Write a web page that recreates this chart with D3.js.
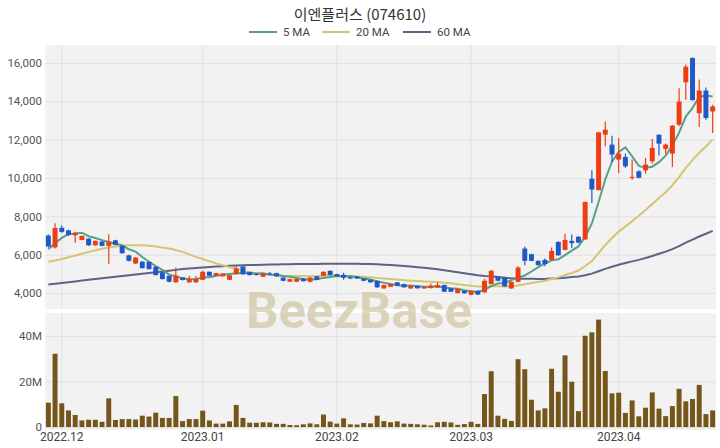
<!DOCTYPE html>
<html><head><meta charset="utf-8">
<script src="https://cdn.jsdelivr.net/npm/d3@7"></script>
<style>
html,body{margin:0;padding:0;background:#fff;}
svg{display:block;font-family:Roboto,"Noto Sans CJK KR","Noto Sans",sans-serif;}
</style></head>
<body>
<svg id="chart" width="720" height="448"></svg>
<script>
const title = "이엔플러스 (074610)";
const dates = [
"2022-11-29","2022-11-30",
"2022-12-01","2022-12-02","2022-12-05","2022-12-06","2022-12-07","2022-12-08","2022-12-09","2022-12-12","2022-12-13","2022-12-14","2022-12-15","2022-12-16","2022-12-19","2022-12-20","2022-12-21","2022-12-22","2022-12-23","2022-12-26","2022-12-27","2022-12-28","2022-12-29",
"2023-01-02","2023-01-03","2023-01-04","2023-01-05","2023-01-06","2023-01-09","2023-01-10","2023-01-11","2023-01-12","2023-01-13","2023-01-16","2023-01-17","2023-01-18","2023-01-19","2023-01-20","2023-01-25","2023-01-26","2023-01-27","2023-01-30","2023-01-31",
"2023-02-01","2023-02-02","2023-02-03","2023-02-06","2023-02-07","2023-02-08","2023-02-09","2023-02-10","2023-02-13","2023-02-14","2023-02-15","2023-02-16","2023-02-17","2023-02-20","2023-02-21","2023-02-22","2023-02-23","2023-02-24","2023-02-27","2023-02-28",
"2023-03-02","2023-03-03","2023-03-06","2023-03-07","2023-03-08","2023-03-09","2023-03-10","2023-03-13","2023-03-14","2023-03-15","2023-03-16","2023-03-17","2023-03-20","2023-03-21","2023-03-22","2023-03-23","2023-03-24","2023-03-27","2023-03-28","2023-03-29","2023-03-30","2023-03-31",
"2023-04-03","2023-04-04","2023-04-05","2023-04-06","2023-04-07","2023-04-10","2023-04-11","2023-04-12","2023-04-13","2023-04-14","2023-04-17","2023-04-18","2023-04-19","2023-04-20","2023-04-21"];
const open  = [7000,6380,7400,7270,7010,6770,6840,6490,6690,6460,6750,6460,5970,5540,5640,5630,5370,5080,4900,4560,
4810,4560,4560,4690,5110,4900,4870,4690,4990,5390,5100,5000,4850,5020,5040,4810,4590,4590,4760,4590,
4870,4900,5160,4990,4950,4830,4870,4760,4690,4640,4240,4330,4560,4470,4240,4380,4240,4260,4290,4420,
4240,4000,4120,3910,4120,4040,4470,4870,4810,4240,4590,6320,6030,5680,5730,5730,6670,6250,6720,6940,
6800,9960,9370,12260,11740,10960,11100,10060,10350,10400,10870,12260,11520,11270,12780,14990,16260,13380,14560,13470];
const high  = [7050,7640,7530,7300,7180,7000,6860,6740,6700,7070,6780,6470,6000,5870,5660,5650,5390,5100,4920,5330,
4830,4900,4900,5160,5130,5060,5040,4950,5380,5400,5120,5020,5040,5100,5060,4830,4750,4750,4780,4830,
4890,5130,5180,5010,5060,4850,4890,4780,4710,4660,4440,4490,4580,4490,4400,4400,4350,4500,4560,4440,
4260,4230,4140,4140,4140,4740,5220,4890,4830,4610,5400,6420,6050,5700,5800,6380,6690,7100,7050,6960,
8770,10400,12400,12950,12200,12090,11270,10960,10400,11050,12040,12270,11800,12750,14680,15900,16280,15140,14720,13820];
const low   = [6380,6320,7150,6990,6630,6750,6470,6480,6440,5510,6500,6050,5650,5520,5280,5230,4920,4710,4570,4540,
4660,4540,4540,4680,4890,4890,4860,4680,4950,4950,4920,4920,4840,4940,4850,4620,4580,4580,4610,4570,
4680,4880,4920,4850,4700,4740,4740,4620,4540,4280,4220,4310,4360,4280,4220,4230,4220,4240,4270,4050,
4050,3980,3970,3890,3900,4020,4450,4620,4330,4220,4570,5450,5660,5440,5400,5710,5950,6230,6350,6610,
6780,8700,9350,11650,10820,10260,10530,9890,9990,10230,10750,11170,11270,10580,12700,14080,14040,12660,13040,12350];
const close = [6430,7400,7190,7020,7150,6980,6490,6720,6460,6690,6510,6080,5680,5850,5300,5250,4940,4730,4590,4900,
4680,4730,4730,5110,4900,5040,5020,4930,5280,4990,4940,4940,5020,4970,4870,4640,4730,4730,4620,4810,
4690,5110,4940,4870,4800,4760,4760,4640,4560,4300,4420,4470,4380,4300,4380,4250,4330,4380,4420,4070,
4070,4210,3990,4120,3920,4640,5160,4640,4350,4590,5330,5680,5680,5460,5510,6200,5970,6770,6600,6630,
8750,9400,12380,12520,11220,11270,10610,10060,10010,10700,11570,11790,11740,12730,13990,15800,14060,14560,13130,13730];
const volume = [10.7,32.2,10.4,7.3,5.3,2.9,3.2,3.2,2.3,12.6,3.1,3.5,3.5,3.3,5.0,4.6,6.3,4.0,4.0,13.6,
2.6,3.5,3.5,7.2,2.9,1.5,1.5,2.5,9.7,4.0,1.9,1.9,2.1,2.0,1.4,1.4,0.9,0.8,1.2,1.6,
1.2,5.5,2.4,1.5,3.8,1.2,1.1,1.8,1.6,5.0,2.6,2.1,2.5,1.5,1.4,1.2,1.0,0.7,2.1,2.3,
2.0,1.0,1.3,2.3,1.4,14.5,24.5,5.0,3.6,2.7,29.8,25.4,12.0,7.3,8.2,25.6,15.5,31.5,19.9,7.0,
40.1,41.6,47.2,24.6,14.8,15.1,6.2,11.7,4.7,8.5,15.2,8.1,4.8,9.2,16.8,11.3,12.3,18.5,5.7,7.3].map(v => v * 1e6);
const ma5 = [6290,6600,6880,7080,7100,7148,6966,6872,6760,6668,6574,6492,6284,6162,5884,5632,5404,5214,4962,4882,
4768,4726,4726,4830,4830,4902,4960,5000,5034,5052,5032,5016,5034,4972,4948,4888,4846,4788,4718,4706,
4716,4792,4834,4884,4882,4896,4826,4766,4704,4604,4536,4478,4426,4374,4390,4356,4328,4328,4352,4290,
4254,4230,4152,4092,4062,4176,4366,4496,4542,4676,4814,4918,5126,5348,5532,5706,5764,5982,6210,6434,
6944,7630,8752,9936,10854,11358,11600,11136,10634,10530,10590,10826,11162,11706,12364,13206,13660,14224,14304,14252];
const ma20 = [5630,5700,5780,5870,5960,6050,6140,6230,6310,6380,6430,6470,6490,6500,6490,6470,6430,6380,6320,6250,
6150,6020,5890,5780,5660,5550,5450,5350,5270,5162,5084,5027,4994,4950,4928,4898,4887,4887,4889,4884,
4885,4904,4914,4902,4897,4883,4870,4856,4820,4785,4759,4736,4704,4670,4646,4626,4606,4589,4579,4542,
4511,4466,4418,4381,4337,4331,4351,4351,4340,4355,4400,4461,4526,4584,4640,4738,4820,4939,5048,5176,
5410,5670,6089,6509,6874,7206,7478,7749,8032,8338,8650,8955,9258,9622,10046,10526,10930,11320,11646,12001];
const ma60 = [4450,4490,4530,4570,4610,4650,4690,4730,4770,4810,4850,4890,4930,4970,5010,5050,5090,5130,5170,5210,
5250,5280,5310,5340,5360,5380,5400,5420,5440,5450,5460,5470,5480,5490,5495,5500,5505,5510,5515,5520,
5520,5525,5530,5530,5535,5535,5530,5520,5510,5500,5480,5460,5440,5410,5380,5350,5320,5280,5240,5190,
5142,5089,5035,4987,4933,4894,4872,4837,4802,4767,4748,4741,4741,4734,4738,4754,4771,4805,4838,4867,
4935,5013,5140,5264,5369,5473,5566,5652,5731,5826,5936,6050,6162,6292,6444,6630,6785,6949,7091,7240];
const priceTicks = [4000,6000,8000,10000,12000,14000,16000];
const volumeTicks = [0,20e6,40e6];
const maSeries = [
  {name:"5 MA", values: ma5, color:"#5a9e86"},
  {name:"20 MA", values: ma20, color:"#d6c56e"},
  {name:"60 MA", values: ma60, color:"#5d6384"}
];

const svg = d3.select("#chart");
const L = 45, R = 716;
const top1 = 45, bot1 = 309, top2 = 313, bot2 = 430;

const x = d3.scaleBand().domain(dates).range([L, R]).paddingInner(0.26).paddingOuter(0.13);
const xc = d => x(d) + x.bandwidth() / 2;
const y = d3.scaleLinear().domain([3170, 16935]).range([bot1, top1]);
const yv = d3.scaleLinear().domain([-1.3e6, 50.1e6]).range([bot2, top2]);

// panels
svg.append("rect").attr("x", L).attr("y", top1).attr("width", R - L).attr("height", bot1 - top1).attr("fill", "#f2f2f2");
svg.append("rect").attr("x", L).attr("y", top2).attr("width", R - L).attr("height", bot2 - top2).attr("fill", "#f2f2f2");

// month ticks
const monthStarts = dates.filter((d, i) => i > 0 && d.slice(0, 7) !== dates[i - 1].slice(0, 7));
const gridColor = "#e1e1e1";
const gx = svg.append("g");
monthStarts.forEach(d => {
  gx.append("line").attr("x1", xc(d)).attr("x2", xc(d)).attr("y1", top1).attr("y2", bot1).attr("stroke", gridColor);
  gx.append("line").attr("x1", xc(d)).attr("x2", xc(d)).attr("y1", top2).attr("y2", bot2).attr("stroke", gridColor);
});

// price axis
const ay = svg.append("g").attr("transform", `translate(${L},0)`)
  .call(d3.axisLeft(y).tickValues(priceTicks).tickFormat(d3.format(",")).tickSize(-(R - L)).tickPadding(3));
ay.select(".domain").remove();
ay.selectAll(".tick line").attr("stroke", gridColor);
ay.selectAll(".tick text").attr("fill", "#555").attr("font-size", 11.5).attr("font-family", "Roboto, sans-serif");

// volume axis
const av = svg.append("g").attr("transform", `translate(${L},0)`)
  .call(d3.axisLeft(yv).tickValues(volumeTicks).tickFormat(d => d === 0 ? "0" : (d / 1e6) + "M").tickSize(-(R - L)).tickPadding(3));
av.select(".domain").remove();
av.selectAll(".tick line").attr("stroke", gridColor);
av.selectAll(".tick text").attr("fill", "#555").attr("font-size", 11.5).attr("font-family", "Roboto, sans-serif");

// x axis labels
const ax = svg.append("g").attr("transform", `translate(0,${bot2})`)
  .call(d3.axisBottom(x).tickValues(monthStarts).tickFormat(d => d.slice(0, 4) + "." + d.slice(5, 7)).tickSize(0).tickPadding(2));
ax.select(".domain").remove();
ax.selectAll(".tick text").attr("fill", "#444").attr("font-size", 12).attr("font-family", "Roboto, sans-serif");

// watermark
svg.append("text").attr("x", 359).attr("y", 328).attr("text-anchor", "middle")
  .attr("font-family", "Roboto, 'Noto Sans', sans-serif").attr("font-weight", 700).attr("font-size", 50)
  .attr("textLength", 226).attr("lengthAdjust", "spacingAndGlyphs")
  .attr("fill", "#cfc4a0").attr("fill-opacity", 0.7).text("BeezBase");

// volume bars
svg.append("g").selectAll("rect").data(dates).join("rect")
  .attr("x", d => x(d)).attr("width", x.bandwidth())
  .attr("y", (d, i) => yv(volume[i])).attr("height", (d, i) => yv(0) - yv(volume[i]))
  .attr("fill", "#75561a");

// MA lines
const line = d3.line().x((v, i) => xc(dates[i])).y(v => y(v));
svg.append("g").selectAll("path").data(maSeries.slice().reverse()).join("path")
  .attr("d", s => line(s.values)).attr("fill", "none").attr("stroke", s => s.color).attr("stroke-width", 2);

// candles
const up = "#ec3d14", down = "#2158c8";
const cg = svg.append("g").selectAll("g").data(dates).join("g");
cg.append("line").attr("x1", d => xc(d)).attr("x2", d => xc(d))
  .attr("y1", (d, i) => y(high[i])).attr("y2", (d, i) => y(low[i]))
  .attr("stroke", (d, i) => close[i] >= open[i] ? up : down).attr("stroke-width", 1.2);
cg.append("rect").attr("x", d => x(d)).attr("width", x.bandwidth())
  .attr("y", (d, i) => y(Math.max(open[i], close[i])))
  .attr("height", (d, i) => Math.max(1, Math.abs(y(open[i]) - y(close[i]))))
  .attr("fill", (d, i) => close[i] >= open[i] ? up : down);

// title
svg.append("text").attr("x", 360).attr("y", 20).attr("text-anchor", "middle")
  .attr("font-family", "'Noto Sans CJK KR', Roboto, sans-serif").attr("font-size", 15).attr("fill", "#333").text(title);

// legend
const lg = svg.append("g").attr("transform", "translate(249,32)");
const legX = [0, 73, 154];
maSeries.forEach((s, i) => {
  const g = lg.append("g").attr("transform", `translate(${legX[i]},0)`);
  g.append("line").attr("x1", 0).attr("x2", 28).attr("y1", 0).attr("y2", 0).attr("stroke", s.color).attr("stroke-width", 2);
  g.append("text").attr("x", 34).attr("y", 4).attr("font-size", 11.5).attr("fill", "#444")
    .attr("font-family", "Roboto, sans-serif").text(s.name);
});
</script>
</body></html>
